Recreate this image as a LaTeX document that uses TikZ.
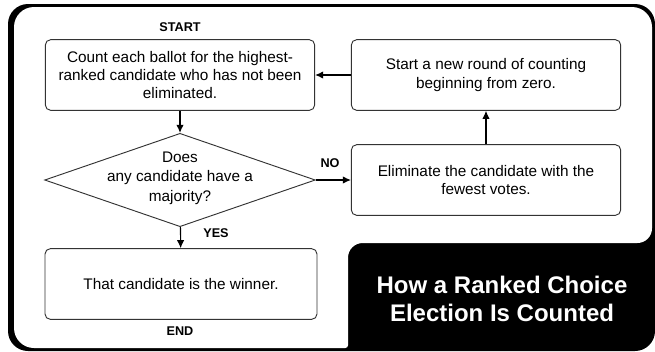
\documentclass[tikz,border=0pt]{standalone}
\usepackage{fontspec}
\setmainfont{Liberation Sans}
\usetikzlibrary{arrows.meta,shapes.geometric}

\begin{document}
\begin{tikzpicture}[x=0.75pt, y=-0.75pt,
        box/.style={draw=black!80, line width=0.7pt, rounded corners=4pt, minimum width=202pt, minimum height=53pt, align=center, font=\fontsize{11.5}{14}\selectfont},
        decision/.style={draw=black!80, line width=0.7pt, diamond, minimum width=203pt, minimum height=70pt, inner sep=0pt},
        tag/.style={font=\fontsize{9.5}{11}\selectfont\bfseries},
        flow/.style={line width=0.8pt, -{Latex[length=6pt,width=5.5pt]}}]
        \useasboundingbox (0,0) rectangle (655,351);
        \fill[black, rounded corners=15pt] (8,4) rectangle (655,351);
        \fill[white] (14,180) [rounded corners=15pt] -- (14,7) -- (652,7) [rounded corners=11pt] -- (652,243) -- (348,243) [rounded corners=2pt] -- (348,348) [rounded corners=15pt] -- (14,348) [sharp corners] -- cycle;
        \node[tag] (start) at (180,27) {START};
        \node[box, font=\fontsize{11.5}{13.2}\selectfont] (count) at (180,75) {Count each ballot for the highest-\\ranked candidate who has not been\\eliminated.};
        \node[decision] (majority) at (180,180) {};
        \node[align=center, font=\fontsize{11.5}{14.6}\selectfont] (question) at (180,178) {Does\\any candidate have a\\majority?};
        \node[box, minimum width=204pt] (winner) at (181,284) {That candidate is the winner.};
        \node[tag] (end) at (180,331) {END};
        \node[box] (eliminate) at (486,180) {Eliminate the candidate with the\\fewest votes.};
        \node[box] (round) at (486,75) {Start a new round of counting\\beginning from zero.};
        \node[tag] (yes) at (216,233) {YES};
        \node[tag] (no) at (330,163) {NO};
        \node[white, align=center, font=\fontsize{18}{21}\selectfont\bfseries] (title) at (502,299) {How a Ranked Choice\\Election Is Counted};
        \draw[flow] (count) -- (majority);
        \draw[flow] (majority) -- (winner);
        \draw[flow] (majority) -- (eliminate);
        \draw[flow] (eliminate) -- (round);
        \draw[flow] (round) -- (count);
\end{tikzpicture}
\end{document}
